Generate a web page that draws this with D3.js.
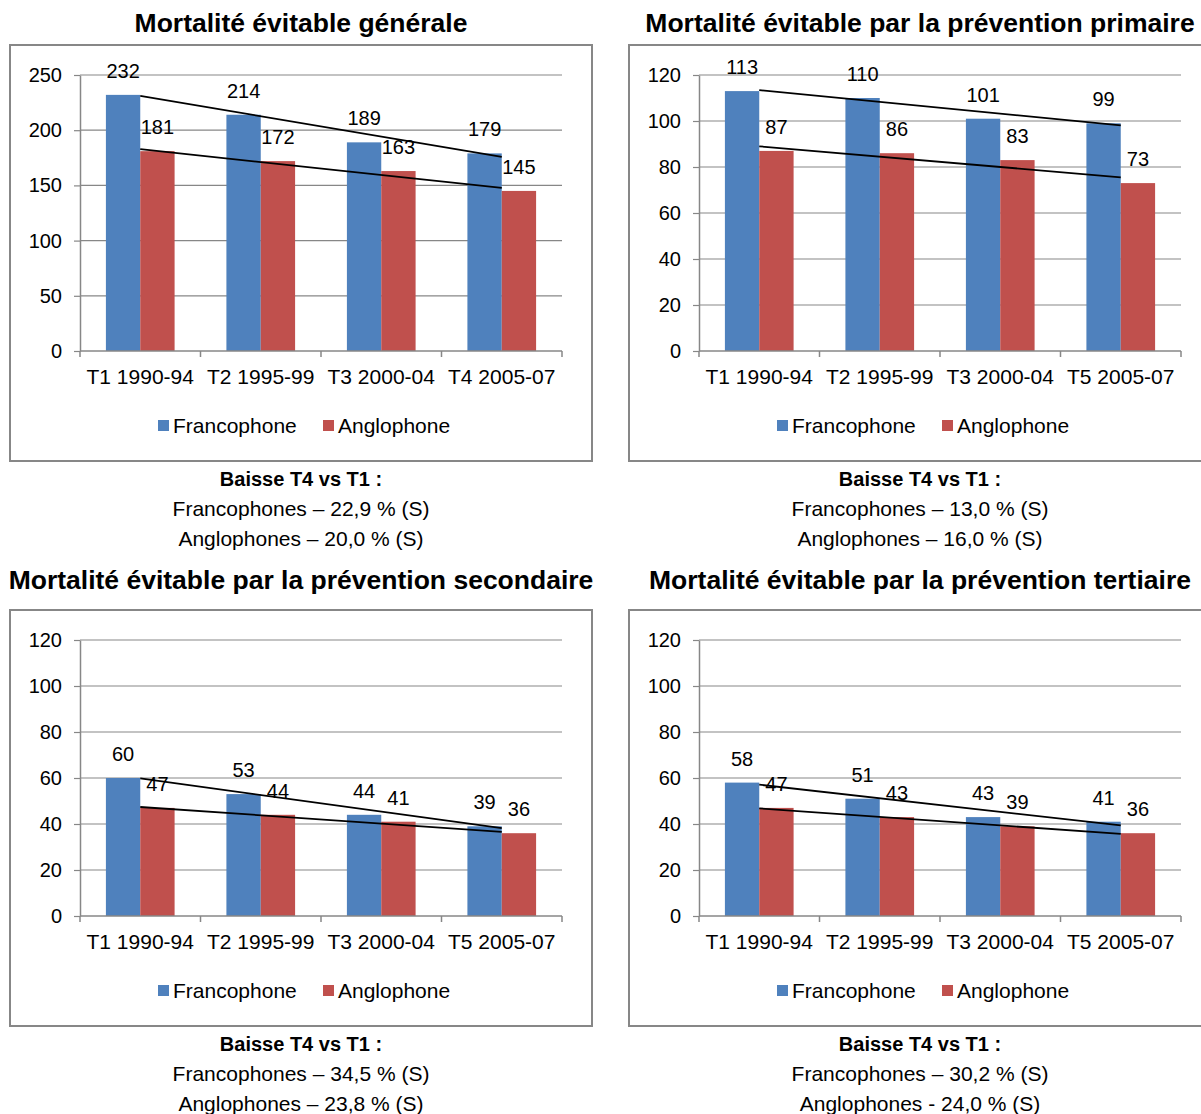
<!DOCTYPE html>
<html>
<head>
<meta charset="utf-8">
<title>Mortalité évitable</title>
<style type="text/css">
body {
  margin: 0;
  background: #ffffff;
}
text {
  font-family: 'Liberation Sans', Arial, Helvetica, sans-serif;
}
</style>
</head>
<body>
<script src="https://d3js.org/d3.v7.min.js"></script>
<script type="text/javascript">

// categories
const categoriesT4 = ["T1 1990-94", "T2 1995-99", "T3 2000-04", "T4 2005-07"];
const categoriesT5 = ["T1 1990-94", "T2 1995-99", "T3 2000-04", "T5 2005-07"];
const seriesNames = ["Francophone", "Anglophone"];

// series values
const generaleFr = [232, 214, 189, 179];
const generaleAn = [181, 172, 163, 145];
const primaireFr = [113, 110, 101, 99];
const primaireAn = [87, 86, 83, 73];
const secondaireFr = [60, 53, 44, 39];
const secondaireAn = [47, 44, 41, 36];
const tertiaireFr = [58, 51, 43, 41];
const tertiaireAn = [47, 43, 39, 36];

// y axis tick labels
const ticksGenerale = [0, 50, 100, 150, 200, 250];
const ticksPrevention = [0, 20, 40, 60, 80, 100, 120];

const titles = [
  "Mortalité évitable générale",
  "Mortalité évitable par la prévention primaire",
  "Mortalité évitable par la prévention secondaire",
  "Mortalité évitable par la prévention tertiaire"
];
const noteHeader = "Baisse T4 vs T1 :";
const notesFr = [
  "Francophones – 22,9 % (S)",
  "Francophones – 13,0 % (S)",
  "Francophones – 34,5 % (S)",
  "Francophones – 30,2 % (S)"
];
const notesAn = [
  "Anglophones – 20,0 % (S)",
  "Anglophones – 16,0 % (S)",
  "Anglophones – 23,8 % (S)",
  "Anglophones - 24,0 % (S)"
];

const colors = ["#4F81BD", "#C0504D"];
const grey = "#878787";

const panels = [
  {title: titles[0], cats: categoriesT4, fr: generaleFr, an: generaleAn, ticks: ticksGenerale, fr_note: notesFr[0], an_note: notesAn[0], ox: 10, oy: 45, ty: 32},
  {title: titles[1], cats: categoriesT5, fr: primaireFr, an: primaireAn, ticks: ticksPrevention, fr_note: notesFr[1], an_note: notesAn[1], ox: 629, oy: 45, ty: 32},
  {title: titles[2], cats: categoriesT5, fr: secondaireFr, an: secondaireAn, ticks: ticksPrevention, fr_note: notesFr[2], an_note: notesAn[2], ox: 10, oy: 610, ty: 589},
  {title: titles[3], cats: categoriesT5, fr: tertiaireFr, an: tertiaireAn, ticks: ticksPrevention, fr_note: notesFr[3], an_note: notesAn[3], ox: 629, oy: 610, ty: 589}
];

var boxW = 582, boxH = 416;
var plot = {left: 70, right: 552, top: 30, bottom: 306};

var svg = d3.select("body").append("svg")
    .attr("width", 1201)
    .attr("height", 1114);

// least squares line, like the Excel linear trendline
function trend(values) {
  var n = values.length;
  var mx = d3.mean(values, function(d, i) { return i; });
  var my = d3.mean(values);
  var num = 0, den = 0;
  values.forEach(function(v, i) {
    num += (i - mx) * (v - my);
    den += (i - mx) * (i - mx);
  });
  var slope = num / den;
  return [my - slope * mx, my + slope * (n - 1 - mx)];
}

panels.forEach(function(p) {
  // title
  svg.append("text")
      .attr("x", p.ox + boxW / 2)
      .attr("y", p.ty)
      .attr("text-anchor", "middle")
      .attr("font-size", "26.5px")
      .attr("font-weight", "bold")
      .attr("fill", "#000")
      .text(p.title);

  var g = svg.append("g")
      .attr("transform", "translate(" + p.ox + "," + p.oy + ")");

  // frame
  g.append("rect")
      .attr("x", 0)
      .attr("y", 0)
      .attr("width", boxW)
      .attr("height", boxH)
      .attr("fill", "none")
      .attr("stroke", grey)
      .attr("stroke-width", 2);

  var x = d3.scaleBand()
      .domain(p.cats)
      .range([plot.left, plot.right])
      .paddingInner(0.43)
      .paddingOuter(0.215);

  var x1 = d3.scaleBand()
      .domain(seriesNames)
      .range([0, x.bandwidth()]);

  var y = d3.scaleLinear()
      .domain([0, d3.max(p.ticks)])
      .range([plot.bottom, plot.top]);

  // gridlines
  g.selectAll(".grid")
      .data(p.ticks.slice(1))
    .enter().append("line")
      .attr("x1", plot.left)
      .attr("x2", plot.right)
      .attr("y1", function(d) { return y(d); })
      .attr("y2", function(d) { return y(d); })
      .attr("stroke", grey)
      .attr("stroke-width", 1.2);

  // y axis
  var yAxis = g.append("g")
      .attr("transform", "translate(" + plot.left + ",0)")
      .call(d3.axisLeft(y).tickValues(p.ticks).tickSize(6).tickPadding(12).tickSizeOuter(0));
  yAxis.select(".domain").attr("stroke", grey).attr("stroke-width", 1.5);
  yAxis.selectAll(".tick line").attr("stroke", grey).attr("stroke-width", 1.2);
  yAxis.selectAll(".tick text")
      .attr("font-size", "20px")
      .attr("font-family", "'Liberation Sans', Arial, sans-serif")
      .attr("fill", "#000");

  // bars
  var series = [p.fr, p.an];
  series.forEach(function(vals, s) {
    g.selectAll(".bar" + s)
        .data(vals)
      .enter().append("rect")
        .attr("x", function(d, i) { return x(p.cats[i]) + x1(seriesNames[s]); })
        .attr("y", function(d) { return y(d); })
        .attr("width", x1.bandwidth())
        .attr("height", function(d) { return y(0) - y(d); })
        .attr("fill", colors[s]);
  });

  // x axis line and category ticks
  g.append("line")
      .attr("x1", plot.left)
      .attr("x2", plot.right)
      .attr("y1", y(0))
      .attr("y2", y(0))
      .attr("stroke", grey)
      .attr("stroke-width", 1.5);

  var bounds = p.cats.map(function(c) { return x(c) - x.step() * x.paddingInner() / 2; });
  bounds.push(plot.right);
  g.selectAll(".xtick")
      .data(bounds)
    .enter().append("line")
      .attr("x1", function(d) { return d; })
      .attr("x2", function(d) { return d; })
      .attr("y1", y(0))
      .attr("y2", y(0) + 6)
      .attr("stroke", grey)
      .attr("stroke-width", 1.5);

  g.selectAll(".xlabel")
      .data(p.cats)
    .enter().append("text")
      .attr("x", function(d) { return x(d) + x.bandwidth() / 2; })
      .attr("y", plot.bottom + 33)
      .attr("text-anchor", "middle")
      .attr("font-size", "21px")
      .attr("fill", "#000")
      .text(function(d) { return d; });

  // trendlines
  var line = d3.line()
      .x(function(d) { return d[0]; })
      .y(function(d) { return y(d[1]); });
  series.forEach(function(vals) {
    var t = trend(vals);
    var first = x(p.cats[0]) + x.bandwidth() / 2;
    var last = x(p.cats[p.cats.length - 1]) + x.bandwidth() / 2;
    g.append("path")
        .attr("d", line([[first, t[0]], [last, t[1]]]))
        .attr("stroke", "#000")
        .attr("stroke-width", 1.8)
        .attr("fill", "none");
  });

  // data labels
  series.forEach(function(vals, s) {
    g.selectAll(".lab" + s)
        .data(vals)
      .enter().append("text")
        .attr("x", function(d, i) { return x(p.cats[i]) + x1(seriesNames[s]) + x1.bandwidth() / 2; })
        .attr("y", function(d) { return y(d) - 17; })
        .attr("text-anchor", "middle")
        .attr("font-size", "20px")
        .attr("fill", "#000")
        .text(function(d) { return d; });
  });

  // legend
  var legendX = [148, 313];
  seriesNames.forEach(function(name, s) {
    g.append("rect")
        .attr("x", legendX[s])
        .attr("y", 375)
        .attr("width", 11)
        .attr("height", 11)
        .attr("fill", colors[s]);
    g.append("text")
        .attr("x", legendX[s] + 15)
        .attr("y", 388)
        .attr("font-size", "21px")
        .attr("fill", "#000")
        .text(name);
  });

  // notes under the frame
  var notes = [noteHeader, p.fr_note, p.an_note];
  notes.forEach(function(t, k) {
    g.append("text")
        .attr("x", boxW / 2)
        .attr("y", boxH + 25 + k * 30)
        .attr("text-anchor", "middle")
        .attr("font-size", k == 0 ? "20px" : "21px")
        .attr("font-weight", k == 0 ? "bold" : "normal")
        .attr("fill", "#000")
        .text(t);
  });
});

</script>
</body>
</html>
